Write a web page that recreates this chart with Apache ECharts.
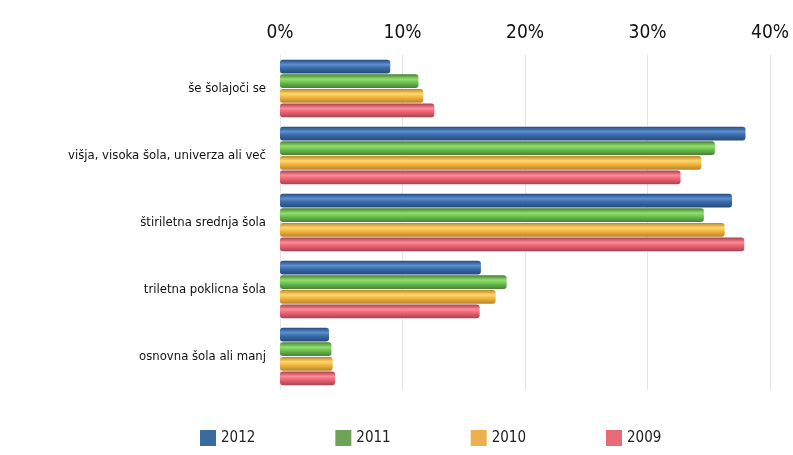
<!DOCTYPE html>
<html><head><meta charset="utf-8">
<script src="https://cdn.jsdelivr.net/npm/echarts@6/dist/echarts.min.js"></script>
<style>html,body{margin:0;padding:0;background:#fff}#c{width:793px;height:455px}</style>
</head><body><div id="c"></div>
<script>
const categories = ["še šolajoči se", "višja, visoka šola, univerza ali več", "štiriletna srednja šola", "triletna poklicna šola", "osnovna šola ali manj"];
const seriesNames = ["2012", "2011", "2010", "2009"];
const v2012 = [9.0, 38.0, 36.9, 16.4, 4.0];
const v2011 = [11.3, 35.5, 34.6, 18.5, 4.2];
const v2010 = [11.7, 34.4, 36.3, 17.6, 4.3];
const v2009 = [12.6, 32.7, 37.9, 16.3, 4.5];
const tickLabels = ["0%", "10%", "20%", "30%", "40%"];

const values = [v2012, v2011, v2010, v2009];
const base = ["#3a6aa8", "#6cbf4f", "#f3b53f", "#ec6474"];
const dark = ["#244a7c", "#467f32", "#b8842a", "#a8404e"];
const light = ["#5b8fd0", "#92e06e", "#ffd86a", "#ff8a98"];
const legendCol = ["#3a6a9e", "#6fa35a", "#eeb04e", "#e96b74"];
const font = "'Liberation Sans Narrow','DejaVu Sans Condensed',sans-serif";

const chart = echarts.init(document.getElementById('c'));
chart.setOption({
  animation: false,
  grid: {left: 280, right: 23, top: 55, bottom: 65},
  legend: {
    bottom: 4, left: 195, itemGap: 80, itemWidth: 16, itemHeight: 16,
    icon: 'rect',
    textStyle: {fontSize: 15, color: '#222', fontFamily: font},
    data: seriesNames.map((n, i) => ({name: n, itemStyle: {color: legendCol[i]}}))
  },
  xAxis: {
    type: 'value', position: 'top', min: 0, max: 40, interval: 10,
    axisLine: {show: false}, axisTick: {show: false},
    splitLine: {show: true, lineStyle: {color: '#e4e4e4'}},
    axisLabel: {fontSize: 19, color: '#111', fontFamily: font, margin: 12,
      formatter: v => tickLabels[v / 10]}
  },
  yAxis: {
    type: 'category', inverse: true, data: categories,
    axisLine: {show: false}, axisTick: {show: false},
    axisLabel: {fontSize: 13, color: '#111', fontFamily: font, margin: 14}
  },
  series: seriesNames.map((n, i) => ({
    name: n, type: 'bar', data: values[i],
    barGap: '6%', barCategoryGap: '14%',
    itemStyle: {
      borderRadius: 3,
      color: new echarts.graphic.LinearGradient(0, 0, 0, 1, [
        {offset: 0, color: dark[i]},
        {offset: 0.35, color: light[i]},
        {offset: 0.6, color: base[i]},
        {offset: 1, color: dark[i]}
      ])
    }
  }))
});
</script></body></html>
